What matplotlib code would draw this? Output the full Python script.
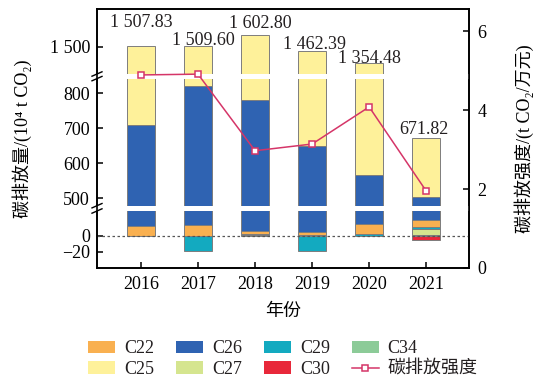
import numpy as np
import matplotlib
matplotlib.use('Agg')
import matplotlib.pyplot as plt
from matplotlib.patches import Patch, Rectangle
from matplotlib.lines import Line2D

plt.rcParams['font.family'] = ['Liberation Serif', 'Noto Sans CJK SC', 'DejaVu Sans']
plt.rcParams['font.size'] = 13
plt.rcParams['text.color'] = '#231f20'
plt.rcParams['axes.unicode_minus'] = True

years = ['2016', '2017', '2018', '2019', '2020', '2021']
c22 = [12.5, 13.5, 3.5, 3.5, 12.5, 9.0]
c25 = [797.83, 689.10, 821.80, 812.39, 789.48, 169.32]
c26 = [697.5, 807.0, 775.0, 645.0, 550.5, 483.0]
c27 = [0, 0, 0, 0, 0, 7.5]
c29 = [0, -19.0, 1.0, -19.0, 2.0, 1.5]
c30 = [0, 0, 0, 0, 0, -5.0]
c34 = [0, 0, 1.5, 1.5, 0, 1.5]
totals = [1507.83, 1509.60, 1602.80, 1462.39, 1354.48, 671.82]
intensity = [4.89, 4.91, 2.97, 3.14, 4.08, 1.95]

colors = {'C22': '#f9b050', 'C25': '#fef19a', 'C26': '#2f63b2', 'C27': '#d5e58f',
          'C29': '#13aac0', 'C30': '#e8283a', 'C34': '#8ccb98'}
line_color = '#d53568'

# broken left axis: piecewise-linear map value -> pixel height inside the axes
brk_v = [-40, 31, 478, 842, 1252, 1843]
brk_p = [0, 57, 62.3, 189.4, 194, 259]
H = brk_p[-1]


def fwd(v):
    return np.interp(v, brk_v, brk_p)


def inv(p):
    return np.interp(p, brk_p, brk_v)


fig = plt.figure(figsize=(5.37, 3.78), dpi=100)
ax = fig.add_axes([97 / 537, 110 / 378, 372 / 537, 259 / 378])
ax.set_yscale('function', functions=(fwd, inv))
ax.set_ylim(brk_v[0], brk_v[-1])
ax.set_xlim(-0.77, 5.75)

x = np.arange(len(years))
stack = [('C34', c34), ('C30', c30), ('C27', c27), ('C29', c29),
         ('C22', c22), ('C26', c26), ('C25', c25)]
pos = np.zeros(len(x))
neg = np.zeros(len(x))
for name, vals in stack:
    vals = np.array(vals, dtype=float)
    bottom = np.where(vals >= 0, pos, neg)
    m = vals != 0
    ax.bar(x[m], vals[m], 0.5, bottom=bottom[m], color=colors[name],
           edgecolor='#7d7d7d', linewidth=0.7, zorder=2)
    pos += np.clip(vals, 0, None)
    neg += np.clip(vals, None, 0)

# white bands where the axis is broken
for lo, hi in [(brk_v[1], brk_v[2]), (brk_v[3], brk_v[4])]:
    ax.axhspan(lo, hi, color='white', lw=0, zorder=3)
    y0, y1 = fwd(lo) / H, fwd(hi) / H
    ax.add_patch(Rectangle((-0.012, y0), 0.024, y1 - y0, transform=ax.transAxes,
                           color='white', lw=0, clip_on=False, zorder=10))
    dx, dy = 5 / 372, 2.2 / 259
    for yy in (y0, y1):
        ax.plot([-dx, dx], [yy - dy, yy + dy], transform=ax.transAxes,
                color='black', lw=1.0, clip_on=False, zorder=11)

ax.axhline(0, color='#555555', lw=0.9, ls=(0, (2, 2)), zorder=4)

# total labels above bars
dx_pt = [0, 3.6, 3.6, 1.4, 0, -1.4]
dy_pt = [13.5, 0.7, 5.5, 1.5, 0, 3]
for i, t in enumerate(totals):
    s = f'{t:,.2f}'.replace(',', ' ')
    ax.annotate(s, (x[i], t), xytext=(dx_pt[i], dy_pt[i]), textcoords='offset points',
                ha='center', va='baseline', fontsize=13, zorder=6)

ax.set_xticks(x, years)
yt = [-20, 0, 500, 600, 700, 800, 1500]
ax.set_yticks(yt, ['\u221220', '0', '500', '600', '700', '800', '1 500'])
ax.tick_params(direction='in', length=4, width=1.1, labelsize=13)
ax.tick_params(axis='y', pad=5)
ax.tick_params(axis='x', pad=6)
for sp in ax.spines.values():
    sp.set_linewidth(1.2)

ax.set_ylabel('碳排放量/(10\u2074 t CO\u2082)', fontsize=13)
ax.yaxis.set_label_coords(-0.175, 0.5)
ax.set_xlabel('年份', fontsize=13)
ax.xaxis.set_label_coords(0.5, -0.135)

# intensity on the right axis
ax2 = ax.twinx()
ax2.set_ylim(0, 6.56)
ax2.plot(x, intensity, color=line_color, lw=1.1, marker='s', ms=4.5,
         mfc='white', mec=line_color, mew=1.1, zorder=5)
ax2.set_yticks([0, 2, 4, 6])
ax2.tick_params(direction='in', length=4, width=1.1, labelsize=13, pad=6)
for sp in ax2.spines.values():
    sp.set_linewidth(1.2)
ax2.set_ylabel('碳排放强度/(t CO\u2082/万元)', fontsize=13)
ax2.yaxis.set_label_coords(1.121, 0.5)

order = ['C22', 'C25', 'C26', 'C27', 'C29', 'C30', 'C34']
handles = [Patch(facecolor=colors[n], edgecolor='none') for n in order]
handles.append(Line2D([], [], color=line_color, lw=1.1, marker='s', ms=5,
                      mfc='white', mec=line_color, mew=1.1))
labels = order + ['碳排放强度']
fig.legend(handles, labels, ncol=4, loc='upper center',
           bbox_to_anchor=(0.527, 1 - 333 / 378), frameon=False,
           handlelength=1.5, handleheight=0.7, handletextpad=0.5,
           columnspacing=1.2, labelspacing=0.2, fontsize=13, borderaxespad=0)

fig.savefig('out.png', dpi=100)
